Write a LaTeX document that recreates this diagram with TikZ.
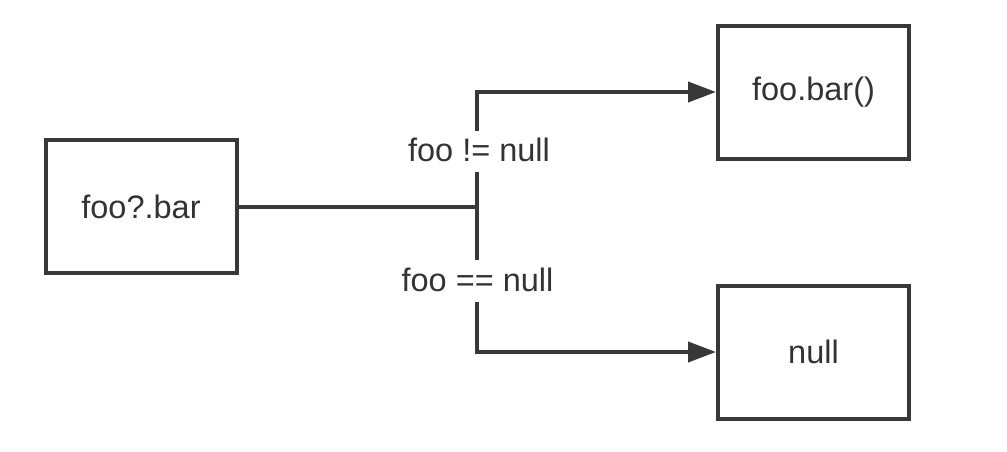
\documentclass[tikz,border=0pt]{standalone}
\usepackage{fontspec}
\setmainfont{Liberation Sans}
\usetikzlibrary{arrows.meta}
\definecolor{ink}{HTML}{383838}
\definecolor{txt}{HTML}{333333}
\begin{document}
\begin{tikzpicture}[x=1pt,y=-1pt,
  box/.style={draw=ink,line width=4pt,minimum width=191pt,minimum height=133pt,inner sep=0pt,text=txt,font=\fontsize{32.5}{38}\selectfont},
  lbl/.style={inner xsep=0pt,inner ysep=10pt,text height=21pt,text depth=0pt,text=txt,font=\fontsize{32.5}{38}\selectfont},
  conn/.style={draw=ink,line width=4pt},
  arr/.style={conn,-{Triangle[length=28pt,width=20pt]}}]
\useasboundingbox[fill=white] (0,0) rectangle (1007,451);
\node[box] (src) at (141,206.5) {foo?.bar};
\node[box] (call) at (813.5,92) {foo.bar()};
\node[box] (nul) at (813.5,352) {null};
\node[lbl] (ne) at (479,151.2) {foo != null};
\node[lbl] (eq) at (477.5,281) {foo == null};
\coordinate (j) at (477,206.5);
\coordinate (t) at (477,92);
\coordinate (b) at (477,352);
\draw[conn] (src.east) -- (j);
\draw[conn] (j) -- (j |- ne.south);
\draw[conn] (j) -- (j |- eq.north);
\draw[arr] (t |- ne.north) -- (t) -- (call.west);
\draw[arr] (b |- eq.south) -- (b) -- (nul.west);
\end{tikzpicture}
\end{document}
